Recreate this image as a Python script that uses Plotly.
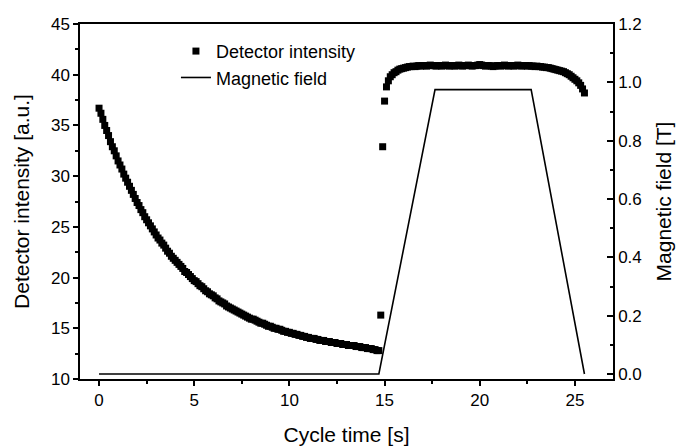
import plotly.graph_objects as go

# ---- data ----
decay_time = [
    0.0, 0.1, 0.2, 0.3, 0.4, 0.5, 0.6, 0.7, 0.8, 0.9,
    1.0, 1.1, 1.2, 1.3, 1.4, 1.5, 1.6, 1.7, 1.8, 1.9,
    2.0, 2.1, 2.2, 2.3, 2.4, 2.5, 2.6, 2.7, 2.8, 2.9,
    3.0, 3.1, 3.2, 3.3, 3.4, 3.5, 3.6, 3.7, 3.8, 3.9,
    4.0, 4.1, 4.2, 4.3, 4.4, 4.5, 4.6, 4.7, 4.8, 4.9,
    5.0, 5.1, 5.2, 5.3, 5.4, 5.5, 5.6, 5.7, 5.8, 5.9,
    6.0, 6.1, 6.2, 6.3, 6.4, 6.5, 6.6, 6.7, 6.8, 6.9,
    7.0, 7.1, 7.2, 7.3, 7.4, 7.5, 7.6, 7.7, 7.8, 7.9,
    8.0, 8.1, 8.2, 8.3, 8.4, 8.5, 8.6, 8.7, 8.8, 8.9,
    9.0, 9.1, 9.2, 9.3, 9.4, 9.5, 9.6, 9.7, 9.8, 9.9,
    10.0, 10.1, 10.2, 10.3, 10.4, 10.5, 10.6, 10.7, 10.8, 10.9,
    11.0, 11.1, 11.2, 11.3, 11.4, 11.5, 11.6, 11.7, 11.8, 11.9,
    12.0, 12.1, 12.2, 12.3, 12.4, 12.5, 12.6, 12.7, 12.8, 12.9,
    13.0, 13.1, 13.2, 13.3, 13.4, 13.5, 13.6, 13.7, 13.8, 13.9,
    14.0, 14.1, 14.2, 14.3, 14.4, 14.5, 14.6, 14.7,
]
decay_intensity = [
    36.7, 36.2, 35.6, 35.0, 34.5, 34.0, 33.4, 32.9, 32.5, 32.0,
    31.5, 31.1, 30.7, 30.2, 29.8, 29.4, 29.0, 28.6, 28.2, 27.8,
    27.4, 27.1, 26.7, 26.4, 26.0, 25.7, 25.4, 25.1, 24.8, 24.5,
    24.2, 23.9, 23.7, 23.4, 23.2, 22.9, 22.6, 22.4, 22.1, 21.9,
    21.7, 21.5, 21.3, 21.1, 20.9, 20.6, 20.5, 20.3, 20.1, 19.9,
    19.7, 19.6, 19.4, 19.2, 19.1, 18.9, 18.7, 18.6, 18.4, 18.3,
    18.2, 18.0, 17.9, 17.7, 17.6, 17.5, 17.4, 17.2, 17.1, 17.0,
    16.9, 16.8, 16.7, 16.6, 16.5, 16.4, 16.3, 16.2, 16.1, 16.0,
    15.9, 15.9, 15.8, 15.7, 15.6, 15.5, 15.5, 15.4, 15.3, 15.2,
    15.2, 15.1, 15.0, 15.0, 14.9, 14.9, 14.8, 14.7, 14.7, 14.6,
    14.6, 14.5, 14.5, 14.4, 14.4, 14.3, 14.3, 14.2, 14.2, 14.1,
    14.1, 14.0, 14.0, 14.0, 13.9, 13.9, 13.8, 13.8, 13.8, 13.7,
    13.7, 13.7, 13.6, 13.6, 13.6, 13.5, 13.5, 13.5, 13.4, 13.4,
    13.4, 13.3, 13.3, 13.3, 13.3, 13.2, 13.2, 13.2, 13.1, 13.1,
    13.1, 13.0, 13.0, 13.0, 12.9, 12.9, 12.8, 12.8,
]
field_on_time = [
    14.8, 14.9, 15.0, 15.1, 15.2, 15.3, 15.4, 15.5, 15.6, 15.7, 15.8, 15.9,
    16.0, 16.1, 16.2, 16.3, 16.4, 16.5, 16.6, 16.7, 16.8, 16.9,
    17.0, 17.1, 17.2, 17.3, 17.4, 17.5, 17.6, 17.7, 17.8, 17.9,
    18.0, 18.1, 18.2, 18.3, 18.4, 18.5, 18.6, 18.7, 18.8, 18.9,
    19.0, 19.1, 19.2, 19.3, 19.4, 19.5, 19.6, 19.7, 19.8, 19.9,
    20.0, 20.1, 20.2, 20.3, 20.4, 20.5, 20.6, 20.7, 20.8, 20.9,
    21.0, 21.1, 21.2, 21.3, 21.4, 21.5, 21.6, 21.7, 21.8, 21.9,
    22.0, 22.1, 22.2, 22.3, 22.4, 22.5, 22.6, 22.7, 22.8, 22.9,
    23.0, 23.1, 23.2, 23.3, 23.4, 23.5, 23.6, 23.7, 23.8, 23.9,
    24.0, 24.1, 24.2, 24.3, 24.4, 24.5, 24.6, 24.7, 24.8, 24.9,
    25.0, 25.1, 25.2, 25.3, 25.4, 25.5,
]
field_on_intensity = [
    16.3, 32.9, 37.4, 38.8, 39.4, 39.8, 40.0, 40.2, 40.3, 40.45, 40.55, 40.6,
    40.65, 40.7, 40.75, 40.8, 40.8, 40.85, 40.8, 40.85, 40.9, 40.85,
    40.9, 40.9, 40.85, 40.9, 40.95, 40.9, 40.9, 40.85, 40.9, 40.9,
    40.85, 40.9, 40.95, 40.9, 40.85, 40.9, 40.9, 40.85, 40.9, 40.95,
    40.9, 40.85, 40.9, 40.9, 40.95, 40.9, 40.85, 40.9, 40.9, 40.95,
    41.0, 40.95, 40.9, 40.85, 40.9, 40.9, 40.85, 40.8, 40.85, 40.9,
    40.9, 40.85, 40.9, 40.95, 40.9, 40.85, 40.9, 40.9, 40.85, 40.9,
    40.95, 40.9, 40.85, 40.9, 40.9, 40.85, 40.9, 40.85, 40.85, 40.8,
    40.85, 40.8, 40.8, 40.75, 40.75, 40.7, 40.7, 40.65, 40.6, 40.55,
    40.5, 40.45, 40.4, 40.35, 40.3, 40.2, 40.1, 40.0, 39.85, 39.7,
    39.55, 39.4, 39.2, 38.95, 38.6, 38.2,
]
field_time = [0.0, 14.7, 17.65, 22.7, 25.5]
field_value = [0.0, 0.0, 0.975, 0.975, 0.0]

x_ticks = [0, 5, 10, 15, 20, 25]
y_ticks = [10, 15, 20, 25, 30, 35, 40, 45]
y2_ticks = [0.0, 0.2, 0.4, 0.6, 0.8, 1.0, 1.2]

det_time = decay_time + field_on_time
det_intensity = decay_intensity + field_on_intensity

FONT = "Liberation Sans, Arial, Helvetica, sans-serif"

fig = go.Figure()
fig.add_trace(go.Scatter(
    x=det_time, y=det_intensity, mode="markers", name="Detector intensity",
    marker=dict(symbol="square", size=7, color="black", line=dict(width=0)),
))
fig.add_trace(go.Scatter(
    x=field_time, y=field_value, mode="lines", name="Magnetic field",
    line=dict(color="black", width=1.6), yaxis="y2",
))

axis_common = dict(
    showline=True, linecolor="black", linewidth=1.5,
    showgrid=False, zeroline=False,
    tickcolor="black", tickwidth=1.5,
    tickfont=dict(family=FONT, size=17, color="black"),
)
title_font = dict(family=FONT, size=21, color="black")

fig.update_layout(
    width=680, height=448,
    margin=dict(l=80, r=67, t=24, b=69),
    paper_bgcolor="white", plot_bgcolor="white",
    font=dict(family=FONT, size=17, color="black"),
    showlegend=True,
    legend=dict(
        x=0.18, y=0.975, xanchor="left", yanchor="top",
        bgcolor="rgba(0,0,0,0)", font=dict(family=FONT, size=18, color="black"),
        tracegroupgap=0,
    ),
    xaxis=dict(
        range=[-1, 27], tickvals=x_ticks, ticks="outside", ticklen=5,
        mirror=True,
        minor=dict(dtick=2.5, tick0=0, ticks="outside", ticklen=3, tickcolor="black", tickwidth=1.5),
        title=dict(text="Cycle time [s]", font=title_font, standoff=18),
        automargin=False,
        **axis_common,
    ),
    yaxis=dict(
        range=[10, 45], tickvals=y_ticks, ticks="outside", ticklen=5,
        minor=dict(dtick=2.5, tick0=10, ticks="outside", ticklen=3, tickcolor="black", tickwidth=1.5),
        title=dict(text="Detector intensity [a.u.]", font=title_font, standoff=16),
        automargin=False,
        **axis_common,
    ),
    yaxis2=dict(
        overlaying="y", side="right",
        range=[-0.0171, 1.2], tickvals=y2_ticks, tickformat=".1f",
        ticks="inside", ticklen=6,
        minor=dict(dtick=0.1, tick0=0, ticks="inside", ticklen=3, tickcolor="black", tickwidth=1.5),
        title=dict(text="Magnetic field [T]", font=title_font, standoff=16),
        automargin=False,
        **axis_common,
    ),
)

fig.write_html(
    "out.html",
    config={"displayModeBar": False},
    post_script="document.body.style.margin='0px';document.body.style.padding='0px';",
)
